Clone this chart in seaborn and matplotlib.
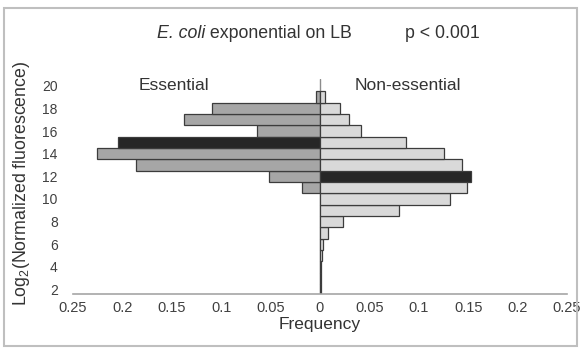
import numpy as np
import pandas as pd
import matplotlib
matplotlib.use("Agg")
import matplotlib.pyplot as plt
from matplotlib.ticker import FuncFormatter
from matplotlib.patches import Rectangle
import seaborn as sns

# log2 fluorescence bins (1-unit wide) and the fraction of genes per bin
bins = [19, 18, 17, 16, 15, 14, 13, 12, 11, 10, 9, 8, 7, 6, 5, 4, 3, 2]
essential = [0.004, 0.109, 0.138, 0.064, 0.204, 0.226, 0.186, 0.052, 0.018,
             0, 0, 0, 0, 0, 0, 0, 0, 0]
non_essential = [0.005, 0.020, 0.029, 0.042, 0.087, 0.125, 0.144, 0.153, 0.149,
                 0.132, 0.080, 0.023, 0.008, 0.0034, 0.002, 0.0015, 0.001, 0.001]

x_ticks = [-0.25, -0.2, -0.15, -0.1, -0.05, 0, 0.05, 0.1, 0.15, 0.2, 0.25]
y_ticks = [2, 4, 6, 8, 10, 12, 14, 16, 18, 20]

title_species = "E. coli"
title_rest = " exponential on LB"
title_right = "p < 0.001"
group_labels = ["Essential", "Non-essential"]


def median_bin(b, f):
    order = np.argsort(b)
    b = np.asarray(b)[order]
    c = np.cumsum(np.asarray(f)[order]) / np.sum(f)
    return b[np.searchsorted(c, 0.5)]


med_e = median_bin(bins, essential)
med_n = median_bin(bins, non_essential)

rows = []
for b, v in zip(bins, essential):
    if v > 0:
        rows.append({"bin": b, "freq": -v, "tone": "median" if b == med_e else "essential"})
for b, v in zip(bins, non_essential):
    if v > 0:
        rows.append({"bin": b, "freq": v, "tone": "median" if b == med_n else "non-essential"})
df = pd.DataFrame(rows)

sns.set_style("white")
plt.rcParams["font.family"] = ["Liberation Sans", "DejaVu Sans"]
plt.rcParams["mathtext.fontset"] = "custom"
plt.rcParams["mathtext.rm"] = "Liberation Sans"
plt.rcParams["mathtext.it"] = "Liberation Sans:italic"

W, H = 581, 348
fig = plt.figure(figsize=(W / 100, H / 100), dpi=100)
ax = fig.add_axes([73 / W, 1 - 294 / H, (567 - 73) / W, (294 - 79) / H])

palette = {"essential": "#a6a6a6", "non-essential": "#d9d9d9", "median": "#262626"}
sns.barplot(data=df, x="freq", y="bin", hue="tone", palette=palette,
            orient="y", native_scale=True, dodge=False, width=1.0,
            errorbar=None, edgecolor="#3c3c3c", linewidth=0.9,
            legend=False, ax=ax, zorder=2)

ax.axvline(0, color="#8c8c8c", lw=1.0, zorder=1)

ax.set_xlim(-0.25, 0.25)
ax.set_ylim(1.6, 20.6)
ax.set_xticks(x_ticks)
ax.xaxis.set_major_formatter(FuncFormatter(lambda v, p: f"{abs(v):g}"))
ax.set_yticks(y_ticks)
ax.set_yticklabels([str(t) for t in y_ticks])

for s in ["top", "right", "left"]:
    ax.spines[s].set_visible(False)
ax.spines["bottom"].set_color("#a6a6a6")
ax.spines["bottom"].set_linewidth(1.2)

ax.tick_params(axis="x", direction="out", length=3, width=1, color="#a6a6a6",
               labelsize=10.5, labelcolor="#404040", pad=2)
ax.tick_params(axis="y", length=0, labelsize=10, labelcolor="#404040", pad=11)

ax.set_xlabel("Frequency", fontsize=12.5, color="#333333")
ax.xaxis.set_label_coords(0.5, -0.105)
ax.set_ylabel("")

fig.text(22 / W, 1 - 183 / H, r"Log$_2$(Normalized fluorescence)", rotation=90,
         ha="center", va="center", fontsize=12.8, color="#333333")

# title: italic species name followed by upright text
t1 = fig.text(157 / W, 1 - 38 / H, title_species, ha="left", va="baseline",
              fontsize=12.8, style="italic", color="#333333")
renderer = fig.canvas.get_renderer()
bb = t1.get_window_extent(renderer=renderer)
fig.text(bb.x1 / W, 1 - 38 / H, title_rest, ha="left", va="baseline",
         fontsize=12.8, color="#333333")
fig.text(405 / W, 1 - 38 / H, title_right, ha="left", va="baseline",
         fontsize=12.8, color="#333333")

fig.text(139 / W, 1 - 90 / H, group_labels[0], ha="left", va="baseline",
         fontsize=12.5, color="#333333")
fig.text(355 / W, 1 - 90 / H, group_labels[1], ha="left", va="baseline",
         fontsize=12.5, color="#333333")

fig.patches.append(Rectangle((4 / W, 1 - 346 / H), (577 - 4) / W, (346 - 8) / H,
                             transform=fig.transFigure, fill=False,
                             edgecolor="#bfbfbf", lw=1.5))

fig.savefig("out.png", dpi=100)
